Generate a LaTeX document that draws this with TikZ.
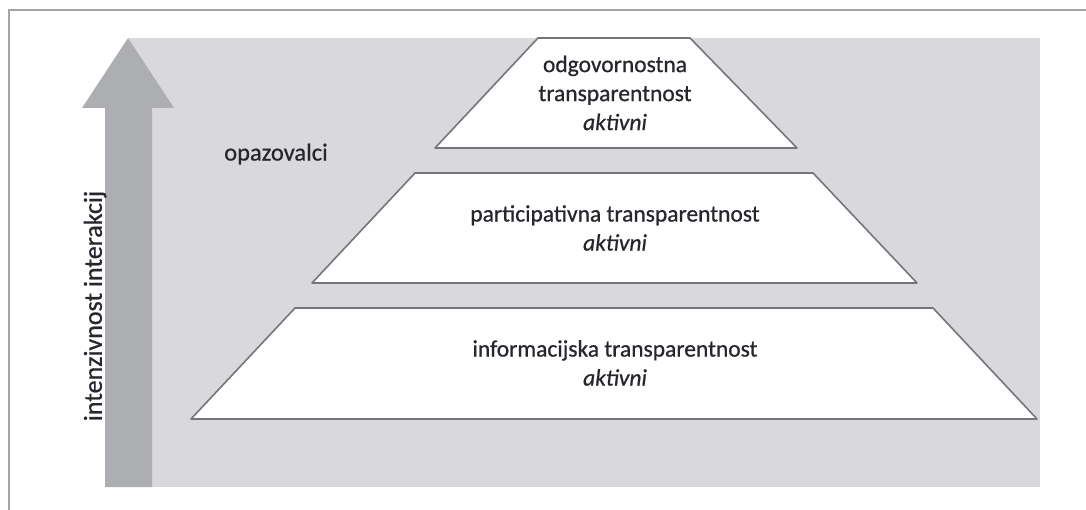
\documentclass[tikz,border=0pt]{standalone}
\usepackage{fontspec}
\setmainfont{Carlito}[FakeBold=0.7]
\begin{document}
\begin{tikzpicture}[x=1pt,y=-1pt,
  lbl/.style={text=txt,font=\fontsize{23.5}{29}\selectfont,align=center,inner sep=0pt},
  tier/.style={draw=edge,line width=1.6pt,fill=white,line join=round}]
\definecolor{bg}{RGB}{216,216,221}
\definecolor{arr}{RGB}{172,174,178}
\definecolor{edge}{RGB}{118,118,122}
\definecolor{frame}{RGB}{165,165,165}
\definecolor{txt}{RGB}{38,38,44}
\useasboundingbox (0,0) rectangle (1086,510);
\fill[white] (0,0) rectangle (1086,510);
% frame
\draw[frame,line width=2pt] (9,510) -- (9,10) -- (1086,10);
% background panel
\fill[bg] (128,38) rectangle (1040,487);
% arrow
\fill[arr] (105,487) -- (105,108) -- (82,108) -- (128,38) -- (174,108) -- (152,108) -- (152,487) -- cycle;
% tiers
\draw[tier] (538,38) -- (690,38) -- (797,148) -- (435,148) -- cycle;
\draw[tier] (415,173) -- (813,173) -- (917,283) -- (312,283) -- cycle;
\draw[tier] (295,308) -- (933,308) -- (1037,419) -- (191,419) -- cycle;
% labels
\node[lbl] (t1) at (615,93) {odgovornostna\\transparentnost\\\textit{aktivni}};
\node[lbl] (t2) at (615,228) {participativna transparentnost\\\textit{aktivni}};
\node[lbl] (t3) at (615,363) {informacijska transparentnost\\\textit{aktivni}};
\node[lbl,font=\fontsize{24.5}{29}\selectfont] (obs) at (276,154) {opazovalci};
\node[lbl,font=\fontsize{26}{29}\selectfont,rotate=90] (axis) at (95,306) {intenzivnost interakcij};
\end{tikzpicture}
\end{document}
